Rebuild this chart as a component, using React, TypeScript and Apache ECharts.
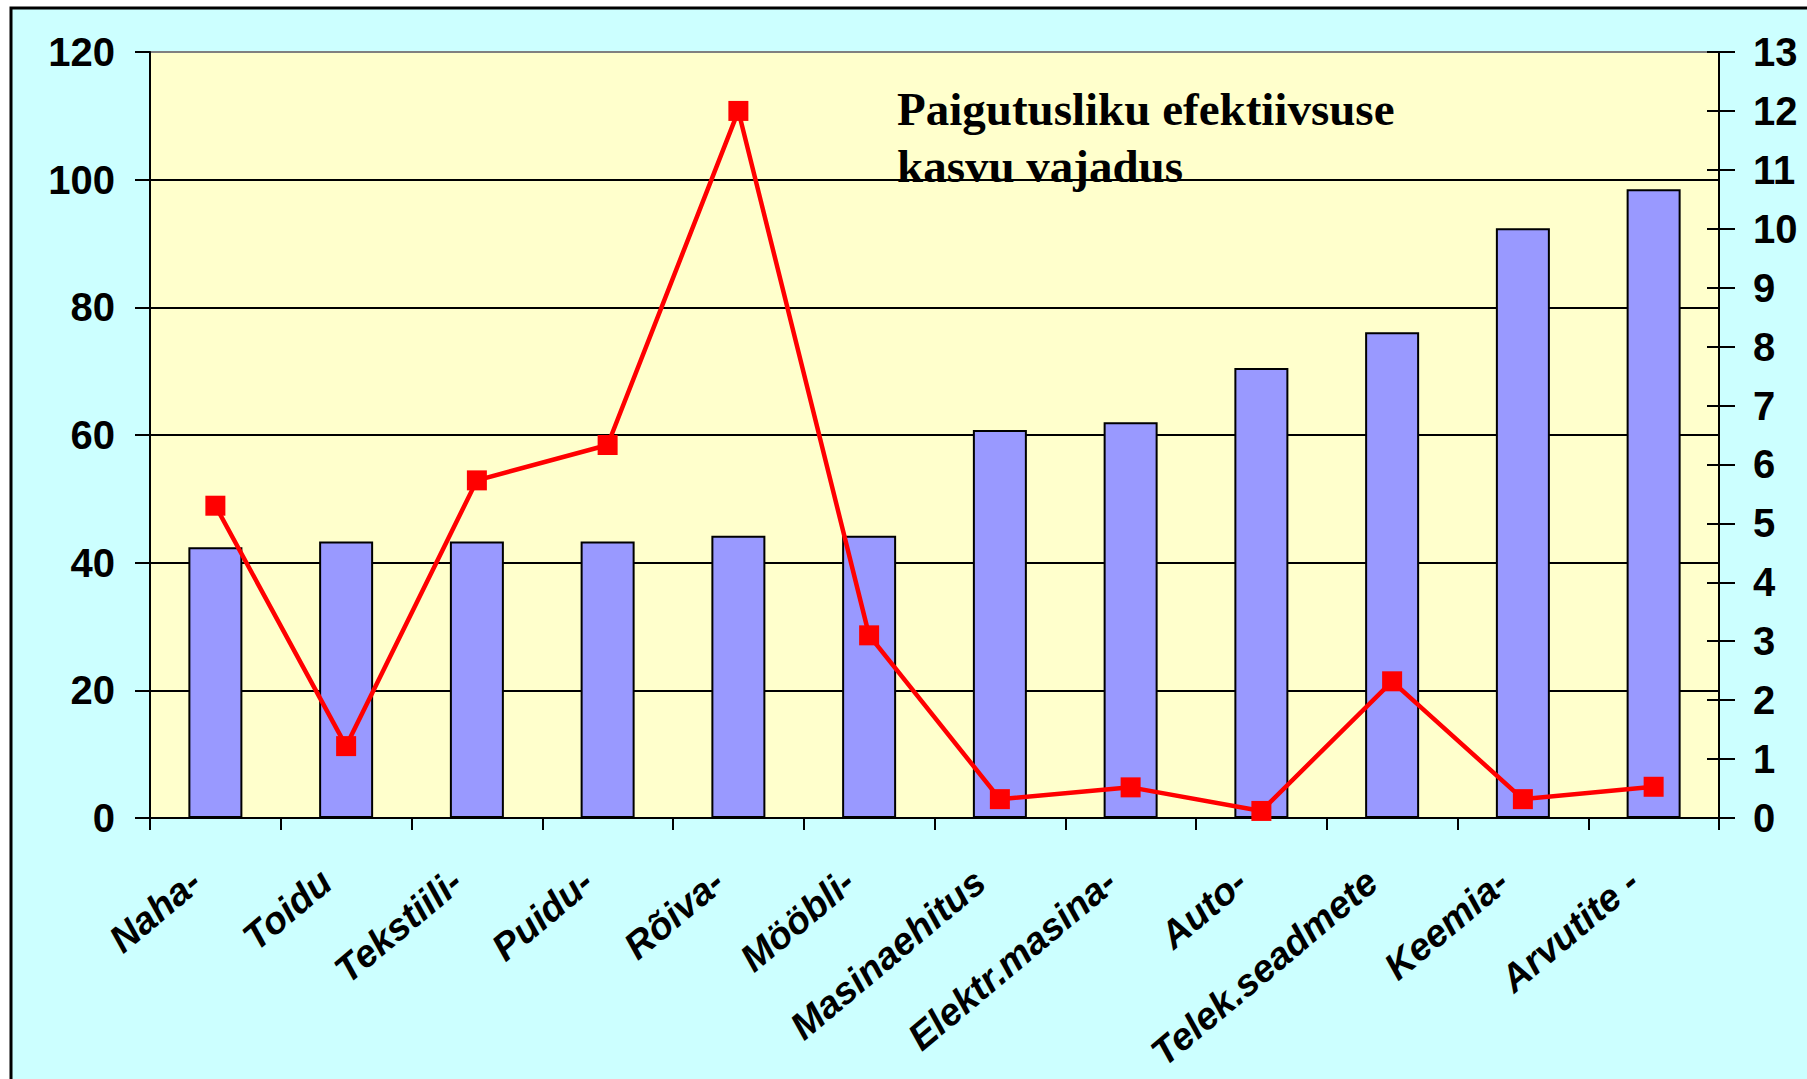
import React, { useEffect, useRef } from "react";
import * as echarts from "echarts";

const categories = [
  "Naha-",
  "Toidu",
  "Tekstiili-",
  "Puidu-",
  "Rõiva-",
  "Mööbli-",
  "Masinaehitus",
  "Elektr.masina-",
  "Auto-",
  "Telek.seadmete",
  "Keemia-",
  "Arvutite -",
];
const barValues = [42.4, 43.3, 43.3, 43.3, 44.2, 44.2, 60.8, 62.0, 70.5, 76.1, 92.4, 98.5];
const lineValues = [5.3, 1.22, 5.73, 6.33, 12.0, 3.1, 0.32, 0.52, 0.12, 2.32, 0.32, 0.53];
const leftAxisMax = 120;
const leftAxisStep = 20;
const rightAxisMax = 13;
const rightAxisStep = 1;
const titleLines = ["Paigutusliku efektiivsuse", "kasvu vajadus"];

const SANS = '"Liberation Sans", Arial, sans-serif';
const SERIF = '"Liberation Serif", "Times New Roman", serif';

export default function App() {
  const ref = useRef<HTMLDivElement>(null);
  useEffect(() => {
    if (!ref.current) return;
    const chart = echarts.init(ref.current, undefined, { renderer: "svg" });
    const axisLabelStyle = {
      color: "#000",
      fontFamily: SANS,
      fontWeight: "bold",
      fontSize: 40,
    };
    const splitColors = [];
    for (let v = 0; v <= leftAxisMax; v += leftAxisStep) {
      splitColors.push(v === leftAxisMax ? "#808080" : "#000");
    }
    chart.setOption({
      animation: false,
      backgroundColor: "#ffffff",
      graphic: [
        {
          type: "rect",
          z: -10,
          silent: true,
          shape: { x: 11, y: 8, width: 1900, height: 1200 },
          style: { fill: "#CCFFFF", stroke: "#000", lineWidth: 3 },
        },
        {
          type: "text",
          z: 100,
          x: 897,
          y: 80,
          style: {
            text: titleLines.join("\n"),
            font: `bold 47px ${SERIF}`,
            fill: "#000",
            lineHeight: 57,
          },
        },
      ],
      grid: {
        left: 150,
        top: 52,
        right: 88,
        bottom: 261,
        show: true,
        backgroundColor: "#FFFFCC",
        borderWidth: 0,
        containLabel: false,
      },
      xAxis: {
        type: "category",
        data: categories,
        boundaryGap: true,
        axisLine: { show: true, lineStyle: { color: "#000", width: 2 } },
        axisTick: { show: true, inside: false, length: 12, lineStyle: { color: "#000", width: 2 } },
        axisLabel: {
          ...axisLabelStyle,
          fontStyle: "italic",
          fontSize: 38,
          rotate: 40,
          margin: 42,
          padding: [0, 26, 0, 0],
          interval: 0,
        },
        splitLine: { show: false },
      },
      yAxis: [
        {
          type: "value",
          position: "left",
          min: 0,
          max: leftAxisMax,
          interval: leftAxisStep,
          axisLine: { show: true, lineStyle: { color: "#000", width: 2 } },
          axisTick: { show: true, inside: false, length: 15, lineStyle: { color: "#000", width: 2 } },
          axisLabel: { ...axisLabelStyle, margin: 35 },
          splitLine: { show: true, lineStyle: { color: splitColors, width: 2 } },
        },
        {
          type: "value",
          position: "right",
          min: 0,
          max: rightAxisMax,
          interval: rightAxisStep,
          axisLine: { show: true, lineStyle: { color: "#000", width: 2 } },
          axisTick: { show: true, inside: false, length: 16, lineStyle: { color: "#000", width: 2 } },
          axisLabel: { ...axisLabelStyle, margin: 34 },
          splitLine: { show: false },
        },
        {
          type: "value",
          position: "right",
          min: 0,
          max: rightAxisMax,
          interval: rightAxisStep,
          axisLine: { show: false },
          axisTick: { show: true, inside: true, length: 12, lineStyle: { color: "#000", width: 2 } },
          axisLabel: { show: false },
          splitLine: { show: false },
        },
      ],
      series: [
        {
          type: "bar",
          yAxisIndex: 0,
          data: barValues,
          barWidth: 54,
          itemStyle: { color: "#9999FF", borderColor: "#000", borderWidth: 2 },
          z: 2,
        },
        {
          type: "line",
          yAxisIndex: 1,
          data: lineValues,
          symbol: "rect",
          symbolSize: 20,
          lineStyle: { color: "#FF0000", width: 4.5 },
          itemStyle: { color: "#FF0000" },
          z: 3,
        },
      ],
    });
    return () => chart.dispose();
  }, []);
  return (
    <div
      ref={ref}
      style={{ position: "fixed", left: 0, top: 0, width: 1807, height: 1079 }}
    />
  );
}
